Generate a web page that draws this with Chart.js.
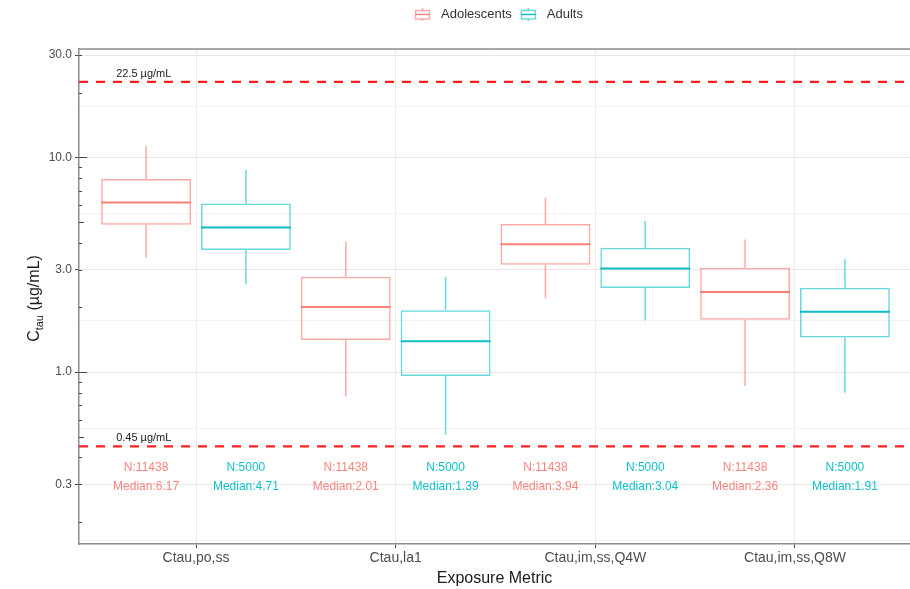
<!DOCTYPE html>
<html>
<head>
<meta charset="utf-8">
<script src="https://cdn.jsdelivr.net/npm/chart.js@4.4.1/dist/chart.umd.min.js"></script>
<style>
  html, body { margin: 0; padding: 0; background: #ffffff; overflow: hidden; }
  #wrap { width: 910px; height: 589px; position: relative; }
</style>
</head>
<body>
<div id="wrap"><canvas id="chart"></canvas></div>
<script>
// Exposure metrics on the x axis
const categories = ['Ctau,po,ss', 'Ctau,la1', 'Ctau,im,ss,Q4W', 'Ctau,im,ss,Q8W'];
const groups = ['Adolescents', 'Adults'];

// Adolescents: whisker ends, quartiles, medians, sample sizes
const adolMin    = [3.41, 0.77, 2.20, 0.86];
const adolQ1     = [4.85, 1.41, 3.16, 1.75];
const adolMedian = [6.17, 2.01, 3.94, 2.36];
const adolQ3     = [7.94, 2.78, 4.90, 3.06];
const adolMax    = [11.3, 4.05, 6.48, 4.15];
const adolN      = [11438, 11438, 11438, 11438];

// Adults: whisker ends, quartiles, medians, sample sizes
const adultMin    = [2.56, 0.51, 1.74, 0.80];
const adultQ1     = [3.70, 0.958, 2.46, 1.45];
const adultMedian = [4.71, 1.39, 3.04, 1.91];
const adultQ3     = [6.10, 1.94, 3.79, 2.47];
const adultMax    = [8.74, 2.78, 5.06, 3.35];
const adultN      = [5000, 5000, 5000, 5000];

// Y axis breaks (log scale) and their labels
const yTickValues = [0.3, 1, 3, 10, 30];
const yTickLabels = ['0.3', '1.0', '3.0', '10.0', '30.0'];

// Threshold lines
const refLines  = [22.5, 0.45];
const refLabels = ['22.5 µg/mL', '0.45 µg/mL'];

const FONT = '"Liberation Sans", Arial, Helvetica, sans-serif';
Chart.defaults.font.family = FONT;

const series = [
  { name: groups[0], min: adolMin, q1: adolQ1, median: adolMedian, q3: adolQ3, max: adolMax, n: adolN,
    edge: 'rgba(248,118,109,0.62)', mid: 'rgba(248,118,109,0.92)', text: 'rgba(248,118,109,0.9)' },
  { name: groups[1], min: adultMin, q1: adultQ1, median: adultMedian, q3: adultQ3, max: adultMax, n: adultN,
    edge: 'rgba(0,191,196,0.6)', mid: 'rgba(0,185,190,0.95)', text: 'rgba(0,191,196,0.95)' }
];

// minor grid lines sit halfway (in log space) between the labelled breaks
const logMajors = yTickValues.map(Math.log10);
const minorGrid = [];
for (let i = 0; i < logMajors.length - 1; i++) minorGrid.push(Math.pow(10, (logMajors[i] + logMajors[i + 1]) / 2));
minorGrid.unshift(Math.pow(10, logMajors[0] - (logMajors[1] - logMajors[0]) / 2));

const X_MIN = -0.586, X_MAX = 3.576;
const Y_MIN = 0.158, Y_MAX = 32;
const N_LABEL_Y = 0.36, MED_LABEL_Y = 0.292;

function strokeLine(ctx, x1, y1, x2, y2) {
  ctx.beginPath(); ctx.moveTo(x1, y1); ctx.lineTo(x2, y2); ctx.stroke();
}

const boxExtras = {
  id: 'boxExtras',
  afterDatasetsDraw(chart) {
    const { ctx, chartArea, scales: { y } } = chart;
    ctx.save();
    ctx.beginPath();
    ctx.rect(chartArea.left, chartArea.top, chartArea.right - chartArea.left, chartArea.bottom - chartArea.top);
    ctx.clip();
    series.forEach((s, di) => {
      const meta = chart.getDatasetMeta(di);
      meta.data.forEach((bar, i) => {
        const cx = bar.x, half = bar.width / 2;
        ctx.setLineDash([]);
        ctx.strokeStyle = s.edge; ctx.lineWidth = 1.5;
        strokeLine(ctx, cx, y.getPixelForValue(s.q3[i]), cx, y.getPixelForValue(s.max[i]));
        strokeLine(ctx, cx, y.getPixelForValue(s.q1[i]), cx, y.getPixelForValue(s.min[i]));
        const ym = y.getPixelForValue(s.median[i]);
        ctx.strokeStyle = s.mid; ctx.lineWidth = 2;
        strokeLine(ctx, cx - half, ym, cx + half, ym);
        ctx.fillStyle = s.text;
        ctx.font = '12px ' + FONT;
        ctx.textAlign = 'center'; ctx.textBaseline = 'middle';
        ctx.fillText('N:' + s.n[i], cx, y.getPixelForValue(N_LABEL_Y));
        ctx.fillText('Median:' + s.median[i].toFixed(2), cx, y.getPixelForValue(MED_LABEL_Y));
      });
    });
    // threshold lines with their labels
    refLines.forEach((v, k) => {
      const py = y.getPixelForValue(v);
      ctx.strokeStyle = '#ff1f1f'; ctx.lineWidth = 2.2; ctx.setLineDash([9, 8]);
      strokeLine(ctx, chartArea.left, py, chartArea.right, py);
      ctx.setLineDash([]);
      ctx.fillStyle = '#1a1a1a'; ctx.font = '11px ' + FONT;
      ctx.textAlign = 'left'; ctx.textBaseline = 'alphabetic';
      ctx.fillText(refLabels[k], chart.scales.x.getPixelForValue(-0.4), py - 5);
    });
    ctx.restore();
  },
  afterDraw(chart) {
    const { ctx, chartArea, scales: { y } } = chart;
    ctx.save();
    // top edge of the panel
    ctx.strokeStyle = '#8c8c8c'; ctx.lineWidth = 1.5;
    strokeLine(ctx, chartArea.left, chartArea.top, chartArea.right, chartArea.top);
    // log tick marks inside the left edge
    ctx.strokeStyle = '#444'; ctx.lineWidth = 1;
    for (let e = -1; e <= 1; e++) {
      for (let m = 1; m <= 9; m++) {
        const v = m * Math.pow(10, e);
        if (v < Y_MIN || v > Y_MAX) continue;
        const len = m === 1 ? 8 : (m === 5 ? 5 : 3);
        const py = Math.round(y.getPixelForValue(v)) + 0.5;
        strokeLine(ctx, chartArea.left, py, chartArea.left + len, py);
      }
    }
    // y axis title: C with subscript "tau"
    const cy = (chartArea.top + chartArea.bottom) / 2 + 2;
    ctx.translate(35, cy);
    ctx.rotate(-Math.PI / 2);
    ctx.fillStyle = '#1a1a1a';
    ctx.textBaseline = 'middle'; ctx.textAlign = 'left';
    const fMain = '16px ' + FONT, fSub = '11px ' + FONT;
    ctx.font = fMain; const wC = ctx.measureText('C').width;
    const wRest = ctx.measureText(' (µg/mL)').width;
    ctx.font = fSub; const wSub = ctx.measureText('tau').width;
    let tx = -(wC + wSub + wRest) / 2;
    ctx.font = fMain; ctx.fillText('C', tx, 0); tx += wC;
    ctx.font = fSub; ctx.fillText('tau', tx, 5); tx += wSub;
    ctx.font = fMain; ctx.fillText(' (µg/mL)', tx, 0);
    ctx.setTransform(1, 0, 0, 1, 0, 0);
    // legend
    ctx.font = '13px ' + FONT; ctx.textBaseline = 'middle'; ctx.textAlign = 'left';
    let lx = 415;
    const ly = 14.5;
    series.forEach((s) => {
      ctx.strokeStyle = s.edge; ctx.lineWidth = 1.4;
      ctx.strokeRect(lx + 0.5, ly - 4, 14, 8.5);
      strokeLine(ctx, lx + 7.5, ly - 6.5, lx + 7.5, ly - 4);
      strokeLine(ctx, lx + 7.5, ly + 4.5, lx + 7.5, ly + 6.5);
      ctx.strokeStyle = s.mid;
      strokeLine(ctx, lx + 0.5, ly, lx + 14.5, ly);
      ctx.fillStyle = '#333';
      ctx.fillText(s.name, lx + 26, ly);
      lx += 26 + ctx.measureText(s.name).width + 9;
    });
    ctx.restore();
  }
};

const datasets = series.map((s) => ({
  label: s.name,
  data: categories.map((c, i) => ({ x: i, y: [s.q1[i], s.q3[i]] })),
  backgroundColor: 'rgba(255,255,255,0)',
  borderColor: s.edge,
  borderWidth: 1.5,
  borderSkipped: false,
  categoryPercentage: 1.0,
  barPercentage: 0.9
}));

new Chart(document.getElementById('chart'), {
  type: 'bar',
  data: { datasets },
  options: {
    responsive: true,
    maintainAspectRatio: false,
    animation: false,
    layout: { padding: { top: 49, right: 0, bottom: 0, left: 0 } },
    plugins: { legend: { display: false }, tooltip: { enabled: false } },
    scales: {
      x: {
        type: 'linear',
        min: X_MIN, max: X_MAX,
        offset: false,
        afterBuildTicks: (s) => { s.ticks = categories.map((c, i) => ({ value: i })); },
        afterFit: (s) => { s.height = 45; },
        ticks: {
          callback: (v) => categories[v] ?? '',
          autoSkip: false, maxRotation: 0,
          font: { size: 14 }, color: '#4d4d4d', padding: 2
        },
        grid: { offset: false, color: '#ebebeb', lineWidth: 1, tickLength: 4, tickColor: '#444', tickWidth: 1 },
        border: { display: true, color: '#8c8c8c', width: 1.5 },
        title: { display: true, text: 'Exposure Metric', font: { size: 16 }, color: '#1a1a1a', padding: { top: 0, bottom: 1 } }
      },
      y: {
        type: 'logarithmic',
        min: Y_MIN, max: Y_MAX,
        afterBuildTicks: (s) => { s.ticks = yTickValues.concat(minorGrid).map((v) => ({ value: v })); },
        afterFit: (s) => { s.width = 79; },
        ticks: {
          callback: (v) => { const k = yTickValues.indexOf(v); return k >= 0 ? yTickLabels[k] : ''; },
          autoSkip: false, font: { size: 12 }, color: '#4d4d4d', padding: 3
        },
        grid: {
          color: (c) => (yTickValues.includes(c.tick && c.tick.value) ? '#e8e8e8' : '#f3f3f3'),
          lineWidth: 1,
          tickLength: 4,
          tickColor: (c) => (yTickValues.includes(c.tick && c.tick.value) ? '#444' : 'rgba(0,0,0,0)'),
          tickWidth: 1
        },
        border: { display: true, color: '#8c8c8c', width: 1.5 }
      }
    }
  },
  plugins: [boxExtras]
});
</script>
</body>
</html>
